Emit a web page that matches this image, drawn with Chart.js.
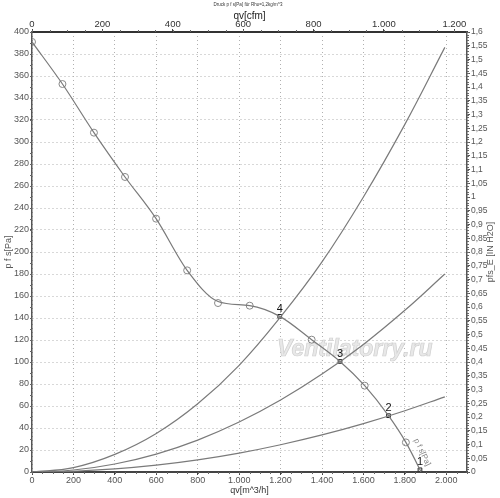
<!DOCTYPE html>
<html>
<head>
<meta charset="utf-8">
<script src="https://cdn.jsdelivr.net/npm/chart.js@4.4.1/dist/chart.umd.min.js"></script>
<style>
  html, body { margin: 0; padding: 0; background: #fff; }
  #wrap { width: 500px; height: 498px; }
</style>
</head>
<body>
<div id="wrap"><canvas id="fanChart"></canvas></div>
<script>
// fan curve p f s [Pa] over qv [m^3/h]
var fanQ = [0, 147, 299, 449, 599, 749, 898, 1051, 1196, 1350, 1487, 1606, 1721, 1805, 1873, 1878];
var fanP = [391, 352.7, 308.5, 268.2, 230.3, 183.3, 155, 151.2, 141.5, 120.3, 100.5, 78.5, 51.2, 26.9, 2, 0];

// measuring points (circles) on the fan curve
var markQ = [0, 147, 299, 449, 599, 749, 898, 1051, 1350, 1606, 1805];
var markP = [391, 352.7, 308.5, 268.2, 230.3, 183.3, 153.6, 151.2, 120.3, 78.5, 26.9];

// system curves
var sysQ = [0, 200, 400, 600, 800, 1000, 1200, 1400, 1600, 1800, 1993];
var sys4P = [0, 4, 16, 35, 62, 97, 141, 191, 250, 316, 386];
var sys3P = [0, 1.8, 7.3, 16.3, 29, 45.4, 65.4, 89, 116, 147, 180];
var sys2P = [0, 0.7, 2.8, 6.2, 11, 17.2, 24.8, 33.7, 44, 55.7, 68.3];

// operating points
var opLabels = ['1', '2', '3', '4'];
var opQ = [1873, 1721, 1487, 1196];
var opP = [2, 51.2, 100.5, 141.5];

// tick labels of the top axis [cfm]
var cfmTicks = [0, 200, 400, 600, 800, 1000, 1200];

var qMax = 2100;
var pMax = 400;
var inH2OMax = 1.6;
var cfmFactor = 1.699;

function toXY(xs, ys) {
    var out = [];
    for (var i = 0; i < xs.length; i++) {
        out.push({ x: xs[i], y: ys[i] });
    }
    return out;
}

function thousands(v) {
    return Math.round(v).toString().replace(/\B(?=(\d{3})+(?!\d))/g, '.');
}

var curveGrey = '#7a7a7a';
var tickFont = { family: 'Liberation Sans', size: 9 };

var minorTicks = {
    id: 'minorTicks',
    afterDraw: function (chart) {
        var ctx = chart.ctx;
        var s = chart.scales;
        ctx.save();
        ctx.strokeStyle = '#666';
        ctx.lineWidth = 1;
        ctx.beginPath();
        var v, p;
        for (v = 0; v <= qMax; v += 50) {
            p = Math.round(s.x.getPixelForValue(v)) + 0.5;
            ctx.moveTo(p, s.x.top); ctx.lineTo(p, s.x.top + 2);
        }
        for (v = 0; v <= qMax / cfmFactor; v += 50) {
            p = Math.round(s.x2.getPixelForValue(v)) + 0.5;
            ctx.moveTo(p, s.x2.bottom); ctx.lineTo(p, s.x2.bottom - 2);
        }
        for (v = 0; v <= pMax; v += 10) {
            p = Math.round(s.y.getPixelForValue(v)) + 0.5;
            ctx.moveTo(s.y.right, p); ctx.lineTo(s.y.right - 2, p);
        }
        for (v = 0; v <= 160; v += 1) {
            p = Math.round(s.y2.getPixelForValue(v / 100)) + 0.5;
            ctx.moveTo(s.y2.left, p); ctx.lineTo(s.y2.left + 2, p);
        }
        ctx.stroke();
        ctx.restore();
    }
};

var extraText = {
    id: 'extraText',
    beforeDatasetsDraw: function (chart) {
        var ctx = chart.ctx;
        ctx.save();
        ctx.font = 'italic bold 23px "Liberation Sans"';
        ctx.fillStyle = '#e8e8e8';
        ctx.strokeStyle = '#d0d0d0';
        ctx.lineWidth = 0.7;
        ctx.textBaseline = 'alphabetic';
        ctx.fillText('Ventilatorry.ru', 277, 356);
        ctx.strokeText('Ventilatorry.ru', 277, 356);
        ctx.restore();
    },
    afterDraw: function (chart) {
        var ctx = chart.ctx;
        var s = chart.scales;
        ctx.save();
        // small title on top
        ctx.font = '4.5px "Liberation Sans"';
        ctx.fillStyle = '#333';
        ctx.textAlign = 'center';
        ctx.textBaseline = 'middle';
        ctx.fillText('Druck p f s[Pa] für Rho=1,2kg/m^3', 248, 5);

        // right axis title, reading bottom to top
        ctx.font = '9px "Liberation Sans"';
        ctx.fillStyle = '#555';
        ctx.translate(491, (chart.chartArea.top + chart.chartArea.bottom) / 2);
        ctx.rotate(-Math.PI / 2);
        ctx.fillText('pfs_E [IN H2O]', 0, 0);
        ctx.restore();

        // operating point numbers
        ctx.save();
        ctx.font = '11px "Liberation Sans"';
        ctx.fillStyle = '#111';
        ctx.textAlign = 'center';
        ctx.textBaseline = 'bottom';
        for (var i = 0; i < opLabels.length; i++) {
            var px = s.x.getPixelForValue(opQ[i]);
            var py = s.y.getPixelForValue(opP[i]);
            ctx.fillText(opLabels[i], px, py - 2);
        }
        ctx.restore();

        // curve name along the fan curve
        ctx.save();
        ctx.font = '8px "Liberation Sans"';
        ctx.fillStyle = '#888';
        ctx.translate(s.x.getPixelForValue(1853), s.y.getPixelForValue(30));
        ctx.rotate(1.13);
        ctx.textBaseline = 'middle';
        ctx.fillText('p f s[Pa]', 0, 0);
        ctx.restore();
    }
};

var ctx = document.getElementById('fanChart');
var fanChart = new Chart(ctx, {
    type: 'scatter',
    data: {
        datasets: [
            {
                label: 'p f s',
                data: toXY(fanQ, fanP),
                showLine: true,
                borderColor: curveGrey,
                borderWidth: 1.2,
                pointRadius: 0,
                cubicInterpolationMode: 'monotone',
                xAxisID: 'x', yAxisID: 'y'
            },
            {
                label: 'points',
                data: toXY(markQ, markP),
                showLine: false,
                pointRadius: 3.5,
                pointBorderWidth: 1,
                pointBorderColor: '#888',
                pointBackgroundColor: 'rgba(255,255,255,0)',
                xAxisID: 'x', yAxisID: 'y'
            },
            {
                label: 'sys4',
                data: toXY(sysQ, sys4P),
                showLine: true,
                borderColor: curveGrey,
                borderWidth: 1.2,
                pointRadius: 0,
                tension: 0.4,
                xAxisID: 'x', yAxisID: 'y'
            },
            {
                label: 'sys3',
                data: toXY(sysQ, sys3P),
                showLine: true,
                borderColor: curveGrey,
                borderWidth: 1.2,
                pointRadius: 0,
                tension: 0.4,
                xAxisID: 'x', yAxisID: 'y'
            },
            {
                label: 'sys2',
                data: toXY(sysQ, sys2P),
                showLine: true,
                borderColor: curveGrey,
                borderWidth: 1.2,
                pointRadius: 0,
                tension: 0.4,
                xAxisID: 'x', yAxisID: 'y'
            },
            {
                label: 'op',
                data: toXY(opQ, opP),
                showLine: false,
                pointStyle: 'rect',
                pointRadius: 2.6,
                pointBorderWidth: 1,
                pointBorderColor: '#222',
                pointBackgroundColor: '#fff',
                xAxisID: 'x', yAxisID: 'y'
            }
        ]
    },
    options: {
        responsive: true,
        maintainAspectRatio: false,
        animation: false,
        layout: { padding: 0 },
        plugins: {
            legend: { display: false },
            tooltip: { enabled: false }
        },
        scales: {
            x: {
                type: 'linear',
                position: 'bottom',
                min: 0,
                max: qMax,
                afterFit: function (scale) { scale.height = 26; },
                ticks: {
                    stepSize: 200,
                    includeBounds: false,
                    maxRotation: 0,
                    autoSkip: false,
                    padding: 0,
                    color: '#555',
                    font: tickFont,
                    callback: function (v) { return thousands(v); }
                },
                grid: {
                    color: '#b0b0b0',
                    lineWidth: 1,
                    tickLength: 3,
                    tickColor: '#444',
                    tickBorderDash: []
                },
                border: { color: '#444', width: 2, dash: [1, 3] },
                title: {
                    display: true,
                    text: 'qv[m^3/h]',
                    color: '#333',
                    font: { family: 'Liberation Sans', size: 9 },
                    padding: { top: 0, bottom: 2 }
                }
            },
            x2: {
                type: 'linear',
                position: 'top',
                min: 0,
                max: qMax / cfmFactor,
                afterFit: function (scale) { scale.height = 32; },
                afterBuildTicks: function (scale) {
                    scale.ticks = cfmTicks.map(function (v) { return { value: v }; });
                },
                ticks: {
                    maxRotation: 0,
                    autoSkip: false,
                    padding: -1.5,
                    color: '#333',
                    font: { family: 'Liberation Sans', size: 9.5 },
                    callback: function (v) { return thousands(v); }
                },
                grid: {
                    drawOnChartArea: false,
                    tickLength: 3,
                    tickColor: '#444'
                },
                border: { color: '#333', width: 2 },
                title: {
                    display: true,
                    text: 'qv[cfm]',
                    color: '#222',
                    font: { family: 'Liberation Sans', size: 10 },
                    padding: { top: 10.5, bottom: 0 }
                }
            },
            y: {
                type: 'linear',
                position: 'left',
                min: 0,
                max: pMax,
                afterFit: function (scale) { scale.width = 32; },
                ticks: {
                    stepSize: 20,
                    includeBounds: false,
                    autoSkip: false,
                    padding: 1,
                    color: '#555',
                    font: tickFont
                },
                grid: {
                    color: '#b0b0b0',
                    lineWidth: 1,
                    tickLength: 2,
                    tickColor: '#555',
                    tickBorderDash: []
                },
                border: { color: '#555', width: 1.5, dash: [1, 3] },
                title: {
                    display: true,
                    text: 'p f s[Pa]',
                    color: '#555',
                    font: { family: 'Liberation Sans', size: 9 },
                    padding: { top: 3, bottom: 0 }
                }
            },
            y2: {
                type: 'linear',
                position: 'right',
                min: 0,
                max: inH2OMax,
                afterFit: function (scale) { scale.width = 33; },
                ticks: {
                    stepSize: 0.05,
                    includeBounds: false,
                    autoSkip: false,
                    padding: 1,
                    color: '#555',
                    font: { family: 'Liberation Sans', size: 8.5 },
                    callback: function (v) {
                        return String(Math.round(v * 100) / 100).replace('.', ',');
                    }
                },
                grid: {
                    drawOnChartArea: false,
                    tickLength: 3,
                    tickColor: '#555'
                },
                border: { color: '#555', width: 1.5 }
            }
        }
    },
    plugins: [minorTicks, extraText]
});
</script>
</body>
</html>
